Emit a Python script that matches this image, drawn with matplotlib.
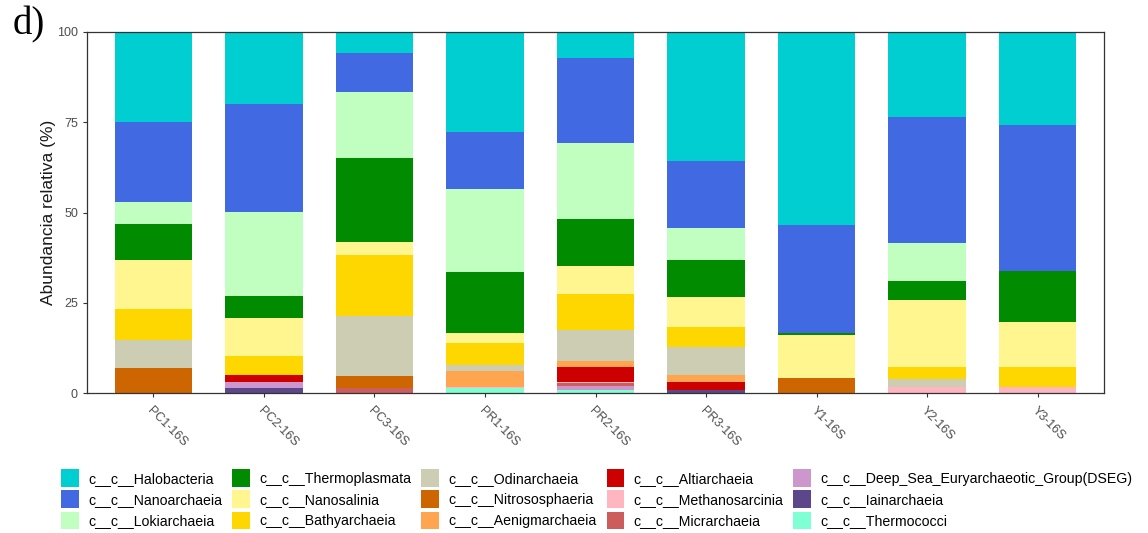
import matplotlib
matplotlib.use("Agg")
import matplotlib.pyplot as plt
from matplotlib.patches import Patch, Rectangle
from matplotlib.legend_handler import HandlerPatch

samples = ["PC1-16S", "PC2-16S", "PC3-16S", "PR1-16S", "PR2-16S",
           "PR3-16S", "Y1-16S", "Y2-16S", "Y3-16S"]

# Relative abundance (%) of each archaeal class per sample
halobacteria    = [24.9, 20.1,  6.0, 27.8,  7.4, 35.7, 53.5, 23.7, 25.8]
nanoarchaeia    = [22.1, 29.7, 10.6, 15.7, 23.3, 18.5, 29.9, 34.8, 40.4]
lokiarchaeia    = [ 6.2, 23.2, 18.4, 22.9, 21.2,  8.8,  0.0, 10.4,  0.0]
thermoplasmata  = [ 9.9,  6.1, 23.1, 16.9, 12.8, 10.5,  0.5,  5.3, 14.0]
nanosalinia     = [13.6, 10.5,  3.7,  2.8,  7.7,  8.1, 12.0, 18.6, 12.6]
bathyarchaeia   = [ 8.6,  5.3, 16.7,  6.2, 10.1,  5.5,  0.0,  3.2,  5.4]
odinarchaeia    = [ 7.8,  0.0, 16.7,  1.4,  8.5,  7.8,  0.0,  2.3,  0.0]
nitrososphaeria = [ 6.9,  0.0,  3.2,  0.0,  0.0,  0.0,  4.1,  0.0,  0.0]
aenigmarchaeia  = [ 0.0,  0.0,  0.0,  4.6,  1.8,  1.9,  0.0,  0.0,  0.0]
altiarchaeia    = [ 0.0,  1.9,  0.0,  0.0,  4.0,  2.2,  0.0,  0.0,  0.0]
methanosarcinia = [ 0.0,  0.0,  0.0,  0.3,  0.3,  0.0,  0.0,  1.7,  1.8]
micrarchaeia    = [ 0.0,  0.0,  1.6,  0.0,  0.9,  0.0,  0.0,  0.0,  0.0]
dseg            = [ 0.0,  1.8,  0.0,  0.0,  1.1,  0.0,  0.0,  0.0,  0.0]
iainarchaeia    = [ 0.0,  1.4,  0.0,  0.0,  0.0,  1.0,  0.0,  0.0,  0.0]
thermococci     = [ 0.0,  0.0,  0.0,  1.4,  0.9,  0.0,  0.0,  0.0,  0.0]

class_names = ["c__c__Halobacteria", "c__c__Nanoarchaeia", "c__c__Lokiarchaeia",
               "c__c__Thermoplasmata", "c__c__Nanosalinia", "c__c__Bathyarchaeia",
               "c__c__Odinarchaeia", "c__c__Nitrososphaeria", "c__c__Aenigmarchaeia",
               "c__c__Altiarchaeia", "c__c__Methanosarcinia", "c__c__Micrarchaeia",
               "c__c__Deep_Sea_Euryarchaeotic_Group(DSEG)", "c__c__Iainarchaeia",
               "c__c__Thermococci"]
class_values = [halobacteria, nanoarchaeia, lokiarchaeia, thermoplasmata, nanosalinia,
                bathyarchaeia, odinarchaeia, nitrososphaeria, aenigmarchaeia,
                altiarchaeia, methanosarcinia, micrarchaeia, dseg, iainarchaeia,
                thermococci]
class_colors = ["#00CED1", "#4169E1", "#C1FFC1", "#008B00", "#FFF68F", "#FFD700",
                "#CDCDB4", "#CD6600", "#FFA54F", "#CD0000", "#FFB6C1", "#CD5C5C",
                "#CD96CD", "#5D478B", "#7FFFD4"]

fig = plt.figure(figsize=(11.48, 5.33), dpi=100)
ax = fig.add_axes([0.0758, 0.2621, 0.8859, 0.6784])

x = list(range(1, len(samples) + 1))
bottom = [0.0] * len(samples)
# Stack from the last class upward so the first class sits on top
for vals, col in zip(reversed(class_values), reversed(class_colors)):
    ax.bar(x, vals, bottom=bottom, width=0.7, color=col, linewidth=0)
    bottom = [b + v for b, v in zip(bottom, vals)]

ax.set_xlim(0.4, 9.6)
ax.set_ylim(0, 100)
ax.set_yticks([0, 25, 50, 75, 100])
ax.set_xticks(x)
ax.set_xticklabels(samples, rotation=-45, ha="left", va="top",
                   rotation_mode="anchor", color="#4D4D4D", fontsize=9,
                   family="Liberation Sans")
for lbl in ax.get_yticklabels():
    lbl.set_color("#4D4D4D")
    lbl.set_fontsize(9)
    lbl.set_family("Liberation Sans")
ax.tick_params(axis="both", length=3, color="#333333", width=0.8)
ax.tick_params(axis="x", pad=5)
for sp in ax.spines.values():
    sp.set_color("#333333")
    sp.set_linewidth(0.9)

ax.set_ylabel("Abundancia relativa (%)", fontsize=12.5, family="Liberation Sans",
              color="#1A1A1A", labelpad=1)

fig.text(0.011, 0.988, "d)", fontsize=28, family="Liberation Serif",
         ha="left", va="top")


def square_key(legend, orig_handle, xdescent, ydescent, width, height, fontsize):
    # square key slightly narrower than the handle box, centred on the text row
    s = width * 0.92
    return Rectangle((-xdescent, -ydescent + (height - s) / 2.0), s, s)


handles = [Patch(facecolor=c, edgecolor="none") for c in class_colors]
fig.legend(handles, class_names, ncol=5, loc="upper center",
           bbox_to_anchor=(0.52, 0.115), frameon=False,
           prop={"family": "Liberation Sans", "size": 10.2},
           handler_map={Patch: HandlerPatch(patch_func=square_key)},
           handlelength=1.36, handleheight=1.0, handletextpad=0.55,
           labelspacing=0.5, columnspacing=0.7, borderpad=0, borderaxespad=0)

fig.savefig("out.png", dpi=100)
